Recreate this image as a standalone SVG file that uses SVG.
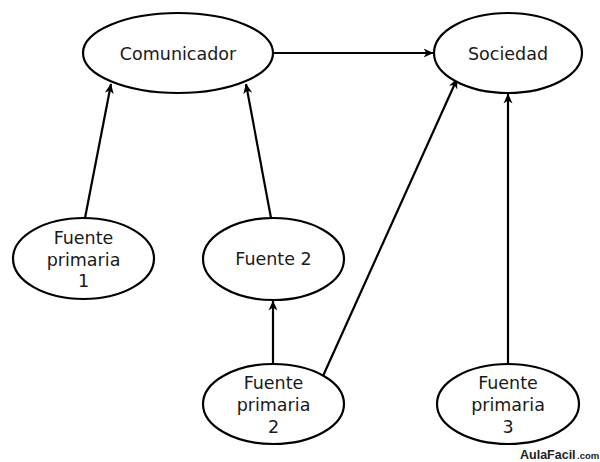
<svg xmlns="http://www.w3.org/2000/svg" width="600" height="462" viewBox="0 0 600 462">
<style>
.node ellipse{fill:#fff;stroke:#000;stroke-width:2.2}
.node text{font-family:"DejaVu Sans",Verdana,sans-serif;font-size:17.5px;fill:#1a1a1a;text-anchor:middle}
.edges line{stroke:#000;stroke-width:2.2;marker-end:url(#ah)}
.wm{font-family:"Liberation Sans",Arial,sans-serif;font-weight:bold;fill:#222}
</style>
<defs>
<marker id="ah" viewBox="0 0 10 10" refX="9.5" refY="5" markerWidth="10" markerHeight="10" markerUnits="userSpaceOnUse" orient="auto">
<path d="M0,0.5 L10,5 L0,9.5 L3,5 Z" fill="#000"/>
</marker>
</defs>
<rect width="600" height="462" fill="#fff"/>
<g class="edges">
<line x1="273" y1="53" x2="433" y2="53"/>
<line x1="85" y1="218" x2="111" y2="84"/>
<line x1="271" y1="218" x2="246" y2="84"/>
<line x1="273" y1="364" x2="273" y2="301"/>
<line x1="323" y1="376" x2="457" y2="79"/>
<line x1="508" y1="364" x2="508" y2="94"/>
</g>
<g id="comunicador" class="node">
<ellipse cx="178" cy="53" rx="95" ry="40"/>
<text x="178" y="60">Comunicador</text>
</g>
<g id="sociedad" class="node">
<ellipse cx="508" cy="53" rx="74" ry="40"/>
<text x="508" y="60">Sociedad</text>
</g>
<g id="fuente-primaria-1" class="node">
<ellipse cx="83.5" cy="258.5" rx="70.5" ry="40.5"/>
<text x="83.5" y="244">Fuente</text>
<text x="83.5" y="265.5">primaria</text>
<text x="83.5" y="287">1</text>
</g>
<g id="fuente-2" class="node">
<ellipse cx="273.5" cy="259" rx="70.5" ry="41"/>
<text x="273.5" y="265">Fuente 2</text>
</g>
<g id="fuente-primaria-2" class="node">
<ellipse cx="273.5" cy="404" rx="70.5" ry="40"/>
<text x="273.5" y="389">Fuente</text>
<text x="273.5" y="411">primaria</text>
<text x="273.5" y="433">2</text>
</g>
<g id="fuente-primaria-3" class="node">
<ellipse cx="508" cy="404" rx="71" ry="40"/>
<text x="508" y="389">Fuente</text>
<text x="508" y="411">primaria</text>
<text x="508" y="433">3</text>
</g>
<text class="wm" x="520" y="459"><tspan font-size="12.5">AulaFacil</tspan><tspan font-size="9.5" dx="1.5">.com</tspan></text>
</svg>
